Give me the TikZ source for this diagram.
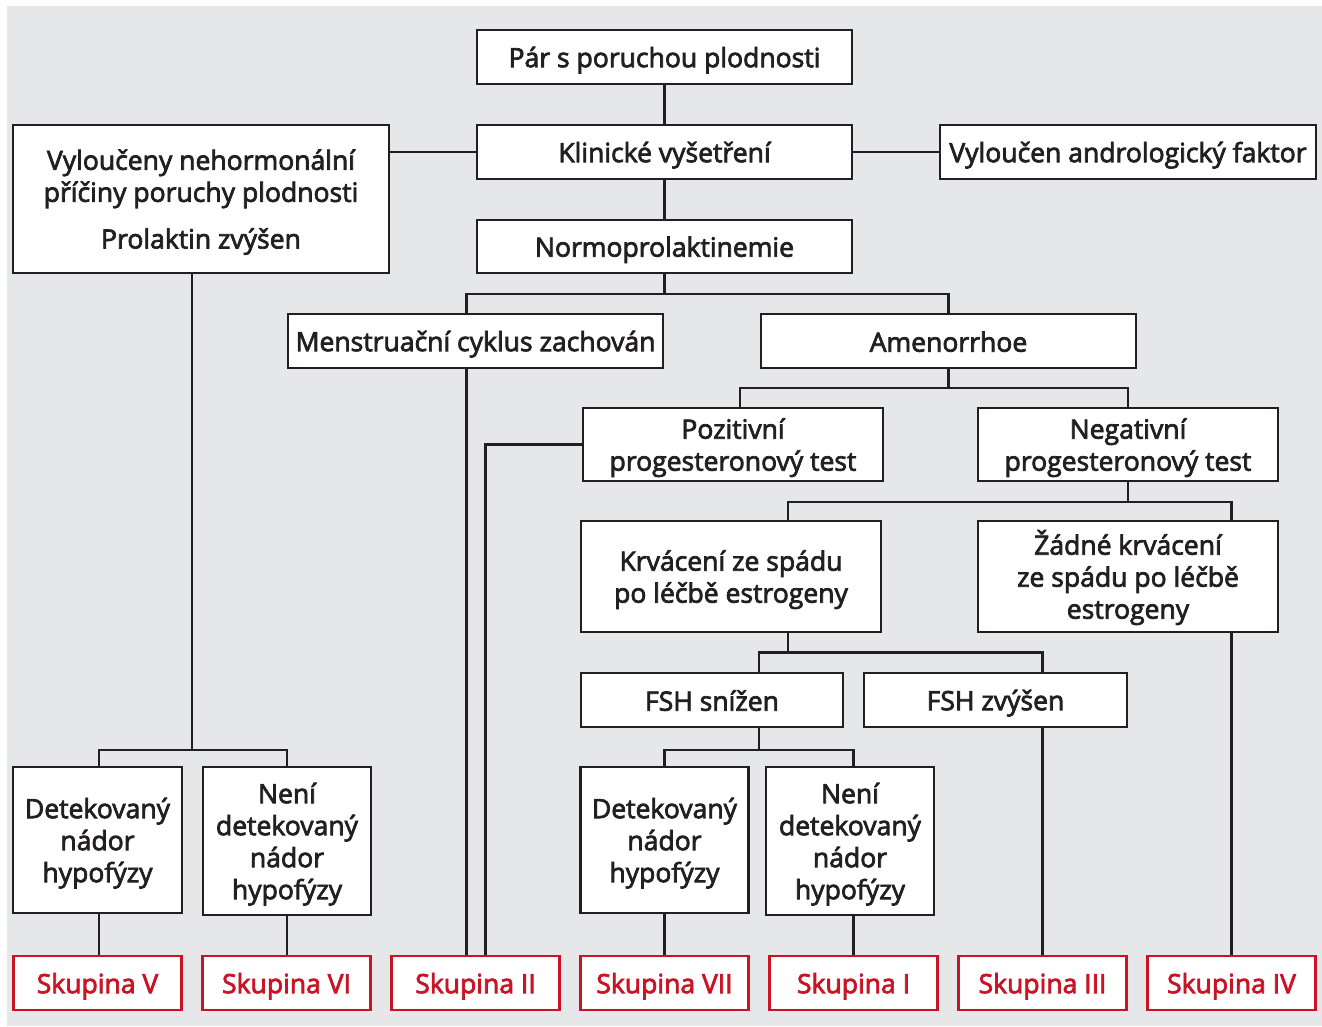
\documentclass[tikz,border=0pt]{standalone}
\usepackage{fontspec}
\setmainfont{Open Sans}
\usetikzlibrary{calc}
\definecolor{bg}{RGB}{230,231,232}
\definecolor{ink}{RGB}{35,31,32}
\definecolor{rd}{RGB}{200,20,36}
\newcommand\topst{\rule{0pt}{20pt}}
\newcommand\botst{\rule[-4pt]{0pt}{4pt}}
\newcommand\heavy{\special{pdf:literal direct 2 Tr 0.55 w}}
\tikzset{
  bx/.style 2 args={draw=ink, fill=white, line width=1.9pt, text=ink, align=center,
    inner sep=0pt, minimum width={#1*0.75pt}, minimum height={#2*0.75pt},
    font=\fontsize{19.9}{24}\selectfont\heavy,
    execute at begin node=\topst, execute at end node=\botst},
  grp/.style={bx={168}{54}, draw=rd, text=rd},
  conn/.style={draw=ink, line width=1.9pt},
}
\begin{document}
\begin{tikzpicture}[x=0.75pt,y=-0.75pt]
\useasboundingbox (0,0) rectangle (1322,1026);
\fill[bg] (7,6) rectangle (1322,1026);
% nodes
\node[bx={375}{54}] (par) at (664.5,57) {Pár s poruchou plodnosti};
\node[bx={375}{54}] (klin) at (664.5,152) {Klinické vyšetření};
\node[bx={376}{148}] (vylo) at (201,199) {\topst Vyloučeny nehormonální\\příčiny poruchy plodnosti\\[11pt]Prolaktin zvýšen};
\node[bx={376}{54}] (andro) at (1128,152) {Vyloučen andrologický faktor};
\node[bx={375}{53}] (normo) at (664.5,246.5) {Normoprolaktinemie};
\node[bx={375}{54}] (mens) at (475.5,341) {Menstruační cyklus zachován};
\node[bx={375}{54}] (amen) at (948.5,341) {Amenorrhoe};
\node[bx={300}{73}] (pozi) at (733,444.5) {\topst Pozitivní\\progesteronový test};
\node[bx={300}{73}] (nega) at (1128,444.5) {\topst Negativní\\progesteronový test};
\node[bx={300}{111}] (krv) at (731,576.5) {\topst Krvácení ze spádu\\po léčbě estrogeny};
\node[bx={300}{111}] (zadne) at (1128,576.5) {\topst Žádné krvácení\\ze spádu po léčbě\\estrogeny};
\node[bx={262}{54}] (fshs) at (712,700) {FSH snížen};
\node[bx={263}{54}] (fshz) at (995.5,700) {FSH zvýšen};
\node[bx={169}{146}] (det1) at (97.5,840) {\topst Detekovaný\\nádor\\hypofýzy};
\node[bx={168}{148}] (neni1) at (287,841) {\topst Není\\detekovaný\\nádor\\hypofýzy};
\node[bx={168}{146}] (det2) at (664.5,840) {\topst Detekovaný\\nádor\\hypofýzy};
\node[bx={168}{148}] (neni2) at (850,841) {\topst Není\\detekovaný\\nádor\\hypofýzy};
\node[grp] (sk5) at (97.5,983) {Skupina V};
\node[grp] (sk6) at (286.5,983) {Skupina VI};
\node[grp] (sk2) at (475.5,983) {Skupina II};
\node[grp] (sk7) at (664.5,983) {Skupina VII};
\node[grp] (sk1) at (853.5,983) {Skupina I};
\node[grp] (sk3) at (1042.5,983) {Skupina III};
\node[grp] (sk4) at (1231.5,983) {Skupina IV};
% junctions
\coordinate (j1) at (664.5,294);
\coordinate (j2) at (948.5,388);
\coordinate (j3) at (1128,502);
\coordinate (j4) at (788,652.5);
\coordinate (j5) at (759,750);
\coordinate (j6) at (192,750);
% connectors
\draw[conn] (par) -- (klin);
\draw[conn] (klin.west) -- (vylo.east |- klin.west);
\draw[conn] (klin) -- (andro);
\draw[conn] (klin) -- (normo);
\draw[conn] (normo.south) -- (j1);
\draw[conn] (j1) -| ($(mens.north)+(-9,0)$);
\draw[conn] (j1) -| (amen.north);
\draw[conn] ($(mens.south)+(-9,0)$) -- ($(sk2.north)+(-9,0)$);
\draw[conn] (pozi.west) -| ($(sk2.north)+(10,0)$);
\draw[conn] (amen.south) -- (j2);
\draw[conn] (j2) -| ($(pozi.north)+(7,0)$);
\draw[conn] (j2) -| (nega.north);
\draw[conn] (nega.south) -- (j3);
\draw[conn] (j3) -| ($(krv.north)+(57,0)$);
\draw[conn] (j3) -| ($(zadne.north)+(103.5,0)$);
\draw[conn] ($(zadne.south)+(103.5,0)$) -- (sk4.north);
\draw[conn] ($(krv.south)+(57,0)$) -- (j4);
\draw[conn] (j4) -| ($(fshs.north)+(47,0)$);
\draw[conn] (j4) -| ($(fshz.north)+(47,0)$);
\draw[conn] ($(fshz.south)+(47,0)$) -- (sk3.north);
\draw[conn] ($(fshs.south)+(47,0)$) -- (j5);
\draw[conn] (j5) -| (det2.north);
\draw[conn] (j5) -| ($(neni2.north)+(3.5,0)$);
\draw[conn] (det2) -- (sk7);
\draw[conn] ($(neni2.south)+(3.5,0)$) -- (sk1.north);
\draw[conn] ($(vylo.south)+(-9,0)$) -- (j6);
\draw[conn] (j6) -| ($(det1.north)+(1.5,0)$);
\draw[conn] (j6) -| (neni1.north);
\draw[conn] ($(det1.south)+(1.5,0)$) -- ($(sk5.north)+(1.5,0)$);
\draw[conn] (neni1.south) -- ($(sk6.north)+(0.5,0)$);
\end{tikzpicture}
\end{document}
